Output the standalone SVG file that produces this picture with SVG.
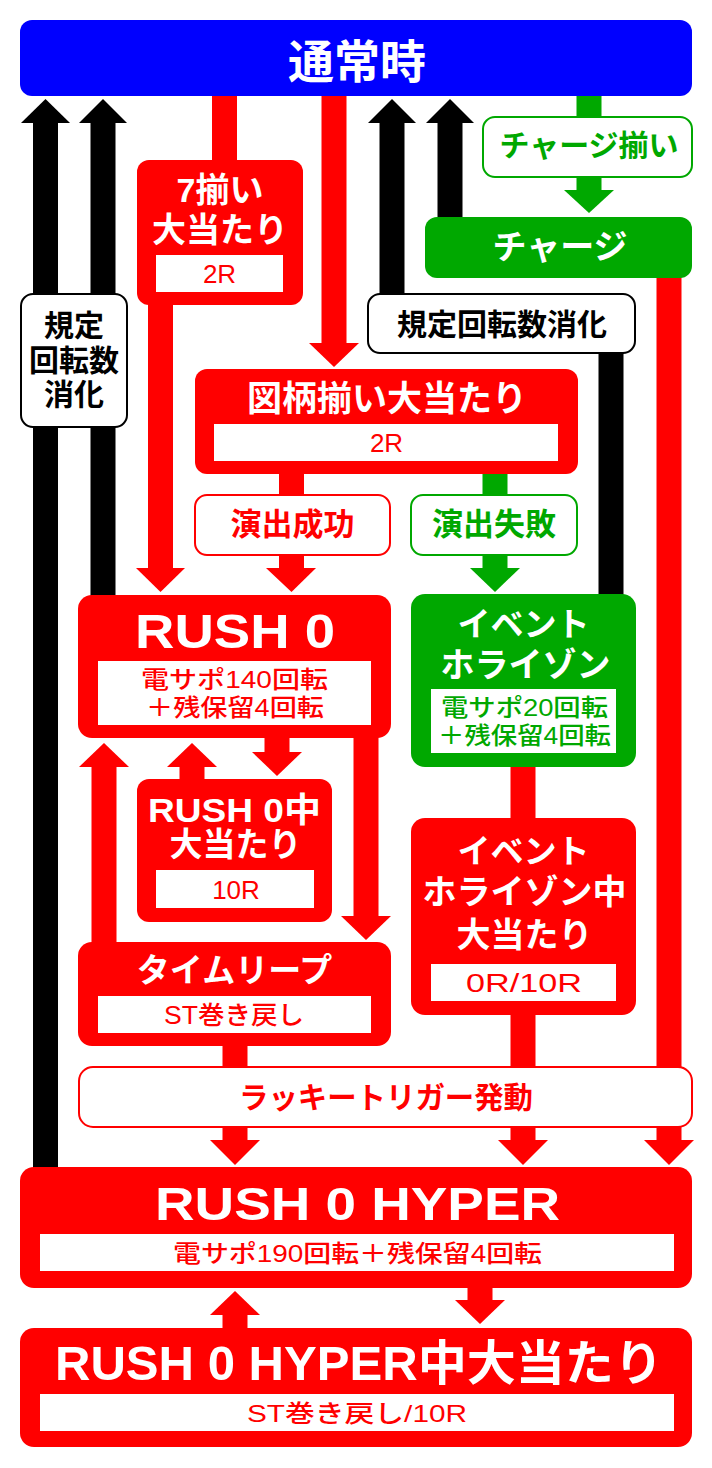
<svg xmlns="http://www.w3.org/2000/svg" width="712" height="1468" viewBox="0 0 712 1468">
<style>
.t{font-family:'Liberation Sans','Noto Sans CJK JP',sans-serif;font-weight:bold;text-anchor:middle}
.s{font-family:'Liberation Sans','Noto Sans CJK JP',sans-serif;font-weight:500;text-anchor:middle;fill:#ff0000}
.w{fill:#fff}
.r{fill:#ff0000}
.g{fill:#00a800}
.k{fill:#000}
.red{fill:#ff0000}
.grn{fill:#00a800}
.blk{fill:#000}
.wb{fill:#fff}
.box-r{fill:#fff;stroke:#ff0000;stroke-width:2}
.box-g{fill:#fff;stroke:#00a800;stroke-width:2}
.box-k{fill:#fff;stroke:#000;stroke-width:2}
</style>
<g id="connectors">
  <!-- black up arrows -->
  <rect class="blk" x="33" y="122" width="25" height="1047"/>
  <polygon class="blk" points="45.5,99 21,123 70,123"/>
  <rect class="blk" x="90.5" y="122" width="25" height="475"/>
  <polygon class="blk" points="103,99 79,123 127,123"/>
  <rect class="blk" x="379.5" y="122" width="25" height="174"/>
  <polygon class="blk" points="392,99 368,123 416,123"/>
  <rect class="blk" x="598.5" y="350" width="25" height="246"/>
  <rect class="blk" x="437.5" y="122" width="25" height="97"/>
  <polygon class="blk" points="450,99 426,123 474,123"/>
  <!-- red from top -->
  <rect class="red" x="212" y="95" width="25" height="67"/>
  <rect class="red" x="148" y="300" width="25" height="269"/>
  <polygon class="red" points="136,568 185,568 160.5,592"/>
  <rect class="red" x="321.5" y="95" width="25" height="249"/>
  <polygon class="red" points="309,343 359,343 334,367"/>
  <!-- green from top -->
  <rect class="grn" x="576.5" y="95" width="25" height="24"/>
  <rect class="grn" x="576.5" y="175" width="25" height="16"/>
  <polygon class="grn" points="564,190 614,190 589,213"/>
  <!-- 図柄 -> 演出 -->
  <rect class="red" x="279" y="470" width="25" height="27"/>
  <rect class="red" x="279" y="553" width="25" height="16"/>
  <polygon class="red" points="266,568 316,568 291.5,592"/>
  <rect class="grn" x="482.5" y="470" width="25" height="27"/>
  <rect class="grn" x="482.5" y="553" width="25" height="16"/>
  <polygon class="grn" points="470,568 520,568 495,592"/>
  <!-- RUSH 0 area -->
  <rect class="red" x="91.5" y="766" width="25" height="178"/>
  <polygon class="red" points="104,743 79,767 129,767"/>
  <rect class="red" x="179.5" y="766" width="25" height="15"/>
  <polygon class="red" points="192,743 167,767 217,767"/>
  <rect class="red" x="264.5" y="735" width="25" height="18"/>
  <polygon class="red" points="252,752 302,752 277,776"/>
  <rect class="red" x="353.5" y="735" width="25" height="182"/>
  <polygon class="red" points="341,916 391,916 366,940"/>
  <!-- event horizon -->
  <rect class="red" x="510.5" y="763" width="25" height="57"/>
  <rect class="red" x="510.5" y="1012" width="25" height="130"/>
  <polygon class="red" points="498,1140 548,1140 523,1165"/>
  <!-- time leap -->
  <rect class="red" x="222.5" y="1043" width="25" height="99"/>
  <polygon class="red" points="210,1140 260,1140 235,1165"/>
  <!-- charge right -->
  <rect class="red" x="656.5" y="275" width="25" height="867"/>
  <polygon class="red" points="644,1140 694,1140 669,1165"/>
  <!-- HYPER -->
  <rect class="red" x="222.5" y="1314" width="25" height="16"/>
  <polygon class="red" points="235,1291 210,1315 260,1315"/>
  <rect class="red" x="467.5" y="1285" width="25" height="16"/>
  <polygon class="red" points="455,1300 505,1300 480,1324"/>
</g>

<g id="node-tsujo">
  <rect x="20" y="20" width="672" height="76" rx="12" fill="#0000ff"/>
  <text class="t w" x="357" y="78" font-size="46">通常時</text>
</g>

<g id="node-7soroi">
  <rect class="red" x="137" y="160" width="166" height="145" rx="12"/>
  <text class="t w" x="220" y="202" font-size="34">7揃い</text>
  <text class="t w" x="220" y="242" font-size="34">大当たり</text>
  <rect class="wb" x="156" y="255" width="127" height="37"/>
  <text class="s" x="219.5" y="283" font-size="26">2R</text>
</g>

<g id="node-kitei-left">
  <rect class="box-k" x="21" y="294" width="106" height="133" rx="12"/>
  <text class="t k" x="74" y="336" font-size="30">規定</text>
  <text class="t k" x="74" y="371" font-size="30">回転数</text>
  <text class="t k" x="74" y="405" font-size="30">消化</text>
</g>

<g id="node-kitei-right">
  <rect class="box-k" x="368" y="294" width="267" height="59" rx="12"/>
  <text class="t k" x="502" y="335" font-size="30">規定回転数消化</text>
</g>

<g id="node-charge-soroi">
  <rect class="box-g" x="483" y="117" width="209" height="60" rx="12"/>
  <text class="t g" x="589" y="156" font-size="30">チャージ揃い</text>
</g>

<g id="node-charge">
  <rect class="grn" x="425" y="217" width="267" height="61" rx="12"/>
  <text class="t w" x="560" y="259" font-size="34">チャージ</text>
</g>

<g id="node-zugara">
  <rect class="red" x="195" y="369" width="383" height="105" rx="12"/>
  <text class="t w" x="387" y="411" font-size="35">図柄揃い大当たり</text>
  <rect class="wb" x="214" y="424" width="344" height="37"/>
  <text class="s" x="386.5" y="452" font-size="26">2R</text>
</g>

<g id="node-seikou">
  <rect class="box-r" x="195" y="495" width="195" height="60" rx="12"/>
  <text class="t r" x="292.5" y="535" font-size="31">演出成功</text>
</g>

<g id="node-shippai">
  <rect class="box-g" x="411" y="495" width="166" height="60" rx="12"/>
  <text class="t g" x="494" y="535" font-size="31">演出失敗</text>
</g>

<g id="node-rush0">
  <rect class="red" x="78" y="595" width="313" height="143" rx="14"/>
  <text class="t w" x="235" y="648" font-size="49" textLength="200" lengthAdjust="spacingAndGlyphs">RUSH 0</text>
  <rect class="wb" x="98" y="661" width="273" height="64"/>
  <text class="s" x="234.5" y="688" font-size="24" textLength="187" lengthAdjust="spacingAndGlyphs">電サポ140回転</text>
  <text class="s" x="235" y="716" font-size="24" textLength="178" lengthAdjust="spacingAndGlyphs">＋残保留4回転</text>
</g>

<g id="node-event">
  <rect class="grn" x="411" y="594" width="225" height="173" rx="14"/>
  <text class="t w" x="523.5" y="636" font-size="33">イベント</text>
  <text class="t w" x="525.5" y="677" font-size="34">ホライゾン</text>
  <rect class="wb" x="431" y="689" width="185" height="64"/>
  <text class="s g" x="524.5" y="716" font-size="24" textLength="167" lengthAdjust="spacingAndGlyphs" style="fill:#00a800">電サポ20回転</text>
  <text class="s g" x="524.5" y="744" font-size="24" textLength="173" lengthAdjust="spacingAndGlyphs" style="fill:#00a800">＋残保留4回転</text>
</g>

<g id="node-rush0-atari">
  <rect class="red" x="137" y="779" width="195" height="143" rx="12"/>
  <text class="t w" x="234.5" y="822" font-size="34" textLength="173" lengthAdjust="spacingAndGlyphs">RUSH 0中</text>
  <text class="t w" x="235.5" y="856" font-size="33">大当たり</text>
  <rect class="wb" x="156" y="870" width="158" height="38"/>
  <text class="s" x="236" y="899" font-size="26">10R</text>
</g>

<g id="node-event-atari">
  <rect class="red" x="411" y="818" width="225" height="197" rx="14"/>
  <text class="t w" x="523.5" y="863" font-size="33">イベント</text>
  <text class="t w" x="524.5" y="904" font-size="34">ホライゾン中</text>
  <text class="t w" x="524.5" y="947" font-size="34">大当たり</text>
  <rect class="wb" x="431" y="964" width="185" height="37"/>
  <text class="s" x="524" y="992" font-size="26" textLength="116" lengthAdjust="spacingAndGlyphs">0R/10R</text>
</g>

<g id="node-timeleap">
  <rect class="red" x="78" y="942" width="313" height="104" rx="14"/>
  <text class="t w" x="234.5" y="982" font-size="33">タイムリープ</text>
  <rect class="wb" x="98" y="996" width="273" height="37"/>
  <text class="s" x="234" y="1024" font-size="25" textLength="140" lengthAdjust="spacingAndGlyphs">ST巻き戻し</text>
</g>

<g id="node-lucky">
  <rect class="box-r" x="79" y="1067" width="613" height="60" rx="14"/>
  <text class="t r" x="386" y="1108" font-size="30" textLength="294" lengthAdjust="spacingAndGlyphs">ラッキートリガー発動</text>
</g>

<g id="node-hyper">
  <rect class="red" x="20" y="1167" width="672" height="121" rx="14"/>
  <text class="t w" x="357.5" y="1220" font-size="46" textLength="405" lengthAdjust="spacingAndGlyphs">RUSH 0 HYPER</text>
  <rect class="wb" x="40" y="1234" width="634" height="37"/>
  <text class="s" x="357.5" y="1262" font-size="24" textLength="369" lengthAdjust="spacingAndGlyphs">電サポ190回転＋残保留4回転</text>
</g>

<g id="node-hyper-atari">
  <rect class="red" x="20" y="1328" width="672" height="119" rx="14"/>
  <text class="t w" x="359" y="1380" font-size="48" textLength="608" lengthAdjust="spacingAndGlyphs">RUSH 0 HYPER中大当たり</text>
  <rect class="wb" x="40" y="1394" width="634" height="37"/>
  <text class="s" x="357" y="1422" font-size="24" textLength="220" lengthAdjust="spacingAndGlyphs">ST巻き戻し/10R</text>
</g>
</svg>
